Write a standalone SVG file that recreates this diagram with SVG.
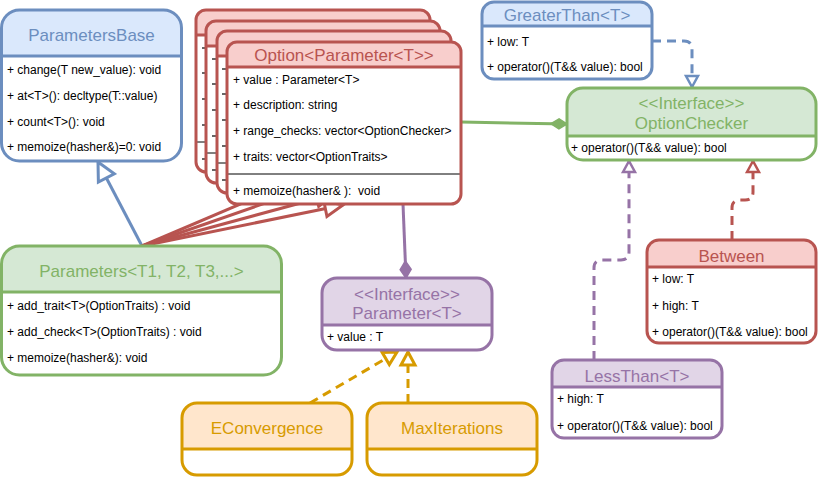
<svg xmlns="http://www.w3.org/2000/svg" width="818" height="477" viewBox="0 0 818 477">
<style>
.bg{fill:#ffffff}
.bd{fill:none;stroke-width:3}
.sep{stroke-width:3}
.div{stroke:#000000;stroke-width:1}
.tick{stroke:#000000;stroke-width:1.2}
.ttl{font-family:"Liberation Sans",Arial,Helvetica,sans-serif;font-size:17px;text-anchor:middle}
.row{font-family:"Liberation Sans",Arial,Helvetica,sans-serif;font-size:12px;fill:#000000}
.blue .hd{fill:#dae8fc}.blue .bd,.blue .sep{stroke:#6c8ebf}.blue .ttl{fill:#6c8ebf}
.red .hd{fill:#f8cecc}.red .bd,.red .sep{stroke:#b85450}.red .ttl{fill:#b85450}
.green .hd{fill:#d5e8d4}.green .bd,.green .sep{stroke:#82b366}.green .ttl{fill:#82b366}
.purple .hd{fill:#e1d5e7}.purple .bd,.purple .sep{stroke:#9673a6}.purple .ttl{fill:#9673a6}
.orange .hd{fill:#ffe6cc}.orange .bd,.orange .sep{stroke:#d79b00}.orange .ttl{fill:#d79b00}
.c{fill:none;stroke-width:3}
.dash{stroke-dasharray:9 6}
</style>
<defs>
<marker id="triBlue" markerUnits="userSpaceOnUse" viewBox="-2 -11 22 22" markerWidth="22" markerHeight="22" refX="18" refY="0" orient="auto" overflow="visible">
<path d="M0,-9 L18,0 L0,9 Z" fill="#ffffff" stroke="#6c8ebf" stroke-width="3"/>
</marker>
<marker id="triRed" markerUnits="userSpaceOnUse" viewBox="-2 -11 22 22" markerWidth="22" markerHeight="22" refX="18" refY="0" orient="auto" overflow="visible">
<path d="M0,-8 L18,0 L0,8 Z" fill="#ffffff" stroke="#b85450" stroke-width="3"/>
</marker>
<marker id="sBlue" markerUnits="userSpaceOnUse" viewBox="-2 -8 16 16" markerWidth="16" markerHeight="16" refX="11" refY="0" orient="auto" overflow="visible">
<path d="M0,-6 L11,0 L0,6 Z" fill="#ffffff" stroke="#6c8ebf" stroke-width="2.5"/>
</marker>
<marker id="sRed" markerUnits="userSpaceOnUse" viewBox="-2 -8 16 16" markerWidth="16" markerHeight="16" refX="11" refY="0" orient="auto" overflow="visible">
<path d="M0,-6 L11,0 L0,6 Z" fill="#ffffff" stroke="#b85450" stroke-width="2.5"/>
</marker>
<marker id="sPurple" markerUnits="userSpaceOnUse" viewBox="-2 -8 16 16" markerWidth="16" markerHeight="16" refX="11" refY="0" orient="auto" overflow="visible">
<path d="M0,-6 L11,0 L0,6 Z" fill="#ffffff" stroke="#9673a6" stroke-width="2.5"/>
</marker>
<marker id="sOrange" markerUnits="userSpaceOnUse" viewBox="-2 -9 18 18" markerWidth="18" markerHeight="18" refX="13" refY="0" orient="auto" overflow="visible">
<path d="M0,-7 L13,0 L0,7 Z" fill="#ffffff" stroke="#d79b00" stroke-width="3"/>
</marker>
<marker id="dGreen" markerUnits="userSpaceOnUse" viewBox="-1 -7 18 14" markerWidth="18" markerHeight="14" refX="16" refY="0" orient="auto" overflow="visible">
<path d="M0,0 L8,-5 L16,0 L8,5 Z" fill="#82b366" stroke="#82b366" stroke-width="1.5"/>
</marker>
<marker id="dPurple" markerUnits="userSpaceOnUse" viewBox="-1 -7 20 14" markerWidth="20" markerHeight="14" refX="17" refY="0" orient="auto" overflow="visible">
<path d="M0,0 L8.5,-5.5 L17,0 L8.5,5.5 Z" fill="#9673a6" stroke="#9673a6" stroke-width="1.5"/>
</marker>
</defs>

<g id="connectors">
<line class="c" stroke="#6c8ebf" x1="142" y1="246" x2="98" y2="162" marker-end="url(#triBlue)"/>
<line class="c" stroke="#b85450" x1="142" y1="246" x2="313" y2="173" marker-end="url(#triRed)"/>
<line class="c" stroke="#b85450" x1="142" y1="246" x2="323" y2="183" marker-end="url(#triRed)"/>
<line class="c" stroke="#b85450" x1="142" y1="246" x2="334" y2="194" marker-end="url(#triRed)"/>
<line class="c" stroke="#b85450" x1="142" y1="246" x2="343" y2="205" marker-end="url(#triRed)"/>
<line class="c" stroke="#82b366" x1="461" y1="122" x2="567" y2="124" marker-end="url(#dGreen)"/>
<line class="c" stroke="#9673a6" x1="403" y1="204" x2="406" y2="278" marker-end="url(#dPurple)"/>
<path class="c dash" stroke="#6c8ebf" d="M652,41 H684 Q692,41 692,49 V87" marker-end="url(#sBlue)"/>
<path class="c dash" stroke="#9673a6" d="M594,360 V268 Q594,260 602,260 H621 Q629,260 629,252 V161" marker-end="url(#sPurple)"/>
<path class="c dash" stroke="#b85450" d="M732,240 V208 Q732,200 740,200 H745 Q753,200 753,192 V161" marker-end="url(#sRed)"/>
<line class="c dash" stroke="#d79b00" x1="310" y1="403" x2="397" y2="352" marker-end="url(#sOrange)"/>
<line class="c dash" stroke="#d79b00" x1="408" y1="403" x2="408" y2="352" marker-end="url(#sOrange)"/>
</g>

<g id="parametersBase" class="blue">
<rect class="bg" x="1.5" y="10" width="180" height="151" rx="18"/>
<path class="hd" d="M1.5,56 V28 A18,18 0 0 1 19.5,10 H163.5 A18,18 0 0 1 181.5,28 V56 Z"/>
<line class="sep" x1="1.5" y1="56" x2="181.5" y2="56"/>
<rect class="bd" x="1.5" y="10" width="180" height="151" rx="18"/>
<text class="ttl" x="91.5" y="41">ParametersBase</text>
<text class="row" x="7" y="74">+ change(T new_value): void</text>
<text class="row" x="7" y="100">+ at&lt;T&gt;(): decltype(T::value)</text>
<text class="row" x="7" y="126">+ count&lt;T&gt;(): void</text>
<text class="row" x="7" y="151">+ memoize(hasher&amp;)=0: void</text>
</g>

<g id="option-back-1" class="red">
<rect class="bg" x="196" y="10" width="234" height="162" rx="10"/>
<path class="hd" d="M196,35 V20 A10,10 0 0 1 206,10 H420 A10,10 0 0 1 430,20 V35 Z"/>
<line class="sep" x1="196" y1="35" x2="430" y2="35"/>
<line class="div" x1="196" y1="142" x2="430" y2="142"/>
<line class="tick" x1="202" y1="48" x2="208" y2="48"/>
<line class="tick" x1="202" y1="73" x2="208" y2="73"/>
<line class="tick" x1="202" y1="99" x2="208" y2="99"/>
<line class="tick" x1="202" y1="125" x2="208" y2="125"/>
<line class="tick" x1="202" y1="159" x2="208" y2="159"/>
<rect class="bd" x="196" y="10" width="234" height="162" rx="10"/>
</g>
<g id="option-back-2" class="red">
<rect class="bg" x="206" y="21" width="234" height="162" rx="10"/>
<path class="hd" d="M206,46 V31 A10,10 0 0 1 216,21 H430 A10,10 0 0 1 440,31 V46 Z"/>
<line class="sep" x1="206" y1="46" x2="440" y2="46"/>
<line class="div" x1="206" y1="153" x2="440" y2="153"/>
<line class="tick" x1="212" y1="59" x2="218" y2="59"/>
<line class="tick" x1="212" y1="84" x2="218" y2="84"/>
<line class="tick" x1="212" y1="110" x2="218" y2="110"/>
<line class="tick" x1="212" y1="136" x2="218" y2="136"/>
<line class="tick" x1="212" y1="170" x2="218" y2="170"/>
<rect class="bd" x="206" y="21" width="234" height="162" rx="10"/>
</g>
<g id="option-back-3" class="red">
<rect class="bg" x="217" y="31" width="234" height="162" rx="10"/>
<path class="hd" d="M217,56 V41 A10,10 0 0 1 227,31 H441 A10,10 0 0 1 451,41 V56 Z"/>
<line class="sep" x1="217" y1="56" x2="451" y2="56"/>
<line class="div" x1="217" y1="163" x2="451" y2="163"/>
<line class="tick" x1="222" y1="69" x2="228" y2="69"/>
<line class="tick" x1="222" y1="94" x2="228" y2="94"/>
<line class="tick" x1="222" y1="120" x2="228" y2="120"/>
<line class="tick" x1="222" y1="146" x2="228" y2="146"/>
<line class="tick" x1="222" y1="180" x2="228" y2="180"/>
<rect class="bd" x="217" y="31" width="234" height="162" rx="10"/>
</g>
<g id="option" class="red">
<rect class="bg" x="227" y="42" width="234" height="162" rx="10"/>
<path class="hd" d="M227,67 V52 A10,10 0 0 1 237,42 H451 A10,10 0 0 1 461,52 V67 Z"/>
<line class="sep" x1="227" y1="67" x2="461" y2="67"/>
<line class="div" x1="227" y1="174" x2="461" y2="174"/>
<rect class="bd" x="227" y="42" width="234" height="162" rx="10"/>
<text class="ttl" x="344" y="61">Option&lt;Parameter&lt;T&gt;&gt;</text>
<text class="row" x="233" y="84">+ value : Parameter&lt;T&gt;</text>
<text class="row" x="233" y="109">+ description: string</text>
<text class="row" x="233" y="135">+ range_checks: vector&lt;OptionChecker&gt;</text>
<text class="row" x="233" y="161">+ traits: vector&lt;OptionTraits&gt;</text>
<text class="row" x="233" y="195" style="white-space:pre" xml:space="preserve">+ memoize(hasher&amp; ):  void</text>
</g>

<g id="greaterThan" class="blue">
<rect class="bg" x="482" y="2" width="170" height="77" rx="12"/>
<path class="hd" d="M482,26 V14 A12,12 0 0 1 494,2 H640 A12,12 0 0 1 652,14 V26 Z"/>
<line class="sep" x1="482" y1="26" x2="652" y2="26"/>
<rect class="bd" x="482" y="2" width="170" height="77" rx="12"/>
<text class="ttl" x="567" y="21">GreaterThan&lt;T&gt;</text>
<text class="row" x="487" y="46">+ low: T</text>
<text class="row" x="487" y="71">+ operator()(T&amp;&amp; value): bool</text>
</g>

<g id="optionChecker" class="green">
<rect class="bg" x="567" y="88" width="249" height="72" rx="16"/>
<path class="hd" d="M567,136 V104 A16,16 0 0 1 583,88 H800 A16,16 0 0 1 816,104 V136 Z"/>
<line class="sep" x1="567" y1="136" x2="816" y2="136"/>
<rect class="bd" x="567" y="88" width="249" height="72" rx="16"/>
<text class="ttl" x="691.5" y="109">&lt;&lt;Interface&gt;&gt;</text>
<text class="ttl" x="691.5" y="129">OptionChecker</text>
<text class="row" x="571" y="152">+ operator()(T&amp;&amp; value): bool</text>
</g>

<g id="parameters" class="green">
<rect class="bg" x="1.5" y="246" width="280" height="129" rx="18"/>
<path class="hd" d="M1.5,292 V264 A18,18 0 0 1 19.5,246 H263.5 A18,18 0 0 1 281.5,264 V292 Z"/>
<line class="sep" x1="1.5" y1="292" x2="281.5" y2="292"/>
<rect class="bd" x="1.5" y="246" width="280" height="129" rx="18"/>
<text class="ttl" x="141.5" y="277">Parameters&lt;T1, T2, T3,...&gt;</text>
<text class="row" x="7" y="310">+ add_trait&lt;T&gt;(OptionTraits) : void</text>
<text class="row" x="7" y="336">+ add_check&lt;T&gt;(OptionTraits) : void</text>
<text class="row" x="7" y="362">+ memoize(hasher&amp;): void</text>
</g>

<g id="parameter" class="purple">
<rect class="bg" x="322" y="278" width="170" height="72" rx="15"/>
<path class="hd" d="M322,325 V293 A15,15 0 0 1 337,278 H477 A15,15 0 0 1 492,293 V325 Z"/>
<line class="sep" x1="322" y1="325" x2="492" y2="325"/>
<rect class="bd" x="322" y="278" width="170" height="72" rx="15"/>
<text class="ttl" x="407" y="300">&lt;&lt;Interface&gt;&gt;</text>
<text class="ttl" x="407" y="319">Parameter&lt;T&gt;</text>
<text class="row" x="327" y="341">+ value : T</text>
</g>

<g id="econvergence" class="orange">
<rect class="bg" x="182" y="403" width="170" height="72" rx="15"/>
<path class="hd" d="M182,449 V418 A15,15 0 0 1 197,403 H337 A15,15 0 0 1 352,418 V449 Z"/>
<line class="sep" x1="182" y1="449" x2="352" y2="449"/>
<rect class="bd" x="182" y="403" width="170" height="72" rx="15"/>
<text class="ttl" x="267" y="434">EConvergence</text>
</g>

<g id="maxIterations" class="orange">
<rect class="bg" x="367" y="403" width="170" height="72" rx="15"/>
<path class="hd" d="M367,449 V418 A15,15 0 0 1 382,403 H522 A15,15 0 0 1 537,418 V449 Z"/>
<line class="sep" x1="367" y1="449" x2="537" y2="449"/>
<rect class="bd" x="367" y="403" width="170" height="72" rx="15"/>
<text class="ttl" x="452" y="434">MaxIterations</text>
</g>

<g id="between" class="red">
<rect class="bg" x="647" y="240" width="169" height="103" rx="12"/>
<path class="hd" d="M647,267 V252 A12,12 0 0 1 659,240 H804 A12,12 0 0 1 816,252 V267 Z"/>
<line class="sep" x1="647" y1="267" x2="816" y2="267"/>
<rect class="bd" x="647" y="240" width="169" height="103" rx="12"/>
<text class="ttl" x="731.5" y="262">Between</text>
<text class="row" x="652" y="283">+ low: T</text>
<text class="row" x="652" y="310">+ high: T</text>
<text class="row" x="652" y="336">+ operator()(T&amp;&amp; value): bool</text>
</g>

<g id="lessThan" class="purple">
<rect class="bg" x="552" y="360" width="170" height="78" rx="12"/>
<path class="hd" d="M552,387 V372 A12,12 0 0 1 564,360 H710 A12,12 0 0 1 722,372 V387 Z"/>
<line class="sep" x1="552" y1="387" x2="722" y2="387"/>
<rect class="bd" x="552" y="360" width="170" height="78" rx="12"/>
<text class="ttl" x="637" y="382">LessThan&lt;T&gt;</text>
<text class="row" x="557" y="403">+ high: T</text>
<text class="row" x="557" y="430">+ operator()(T&amp;&amp; value): bool</text>
</g>
</svg>
